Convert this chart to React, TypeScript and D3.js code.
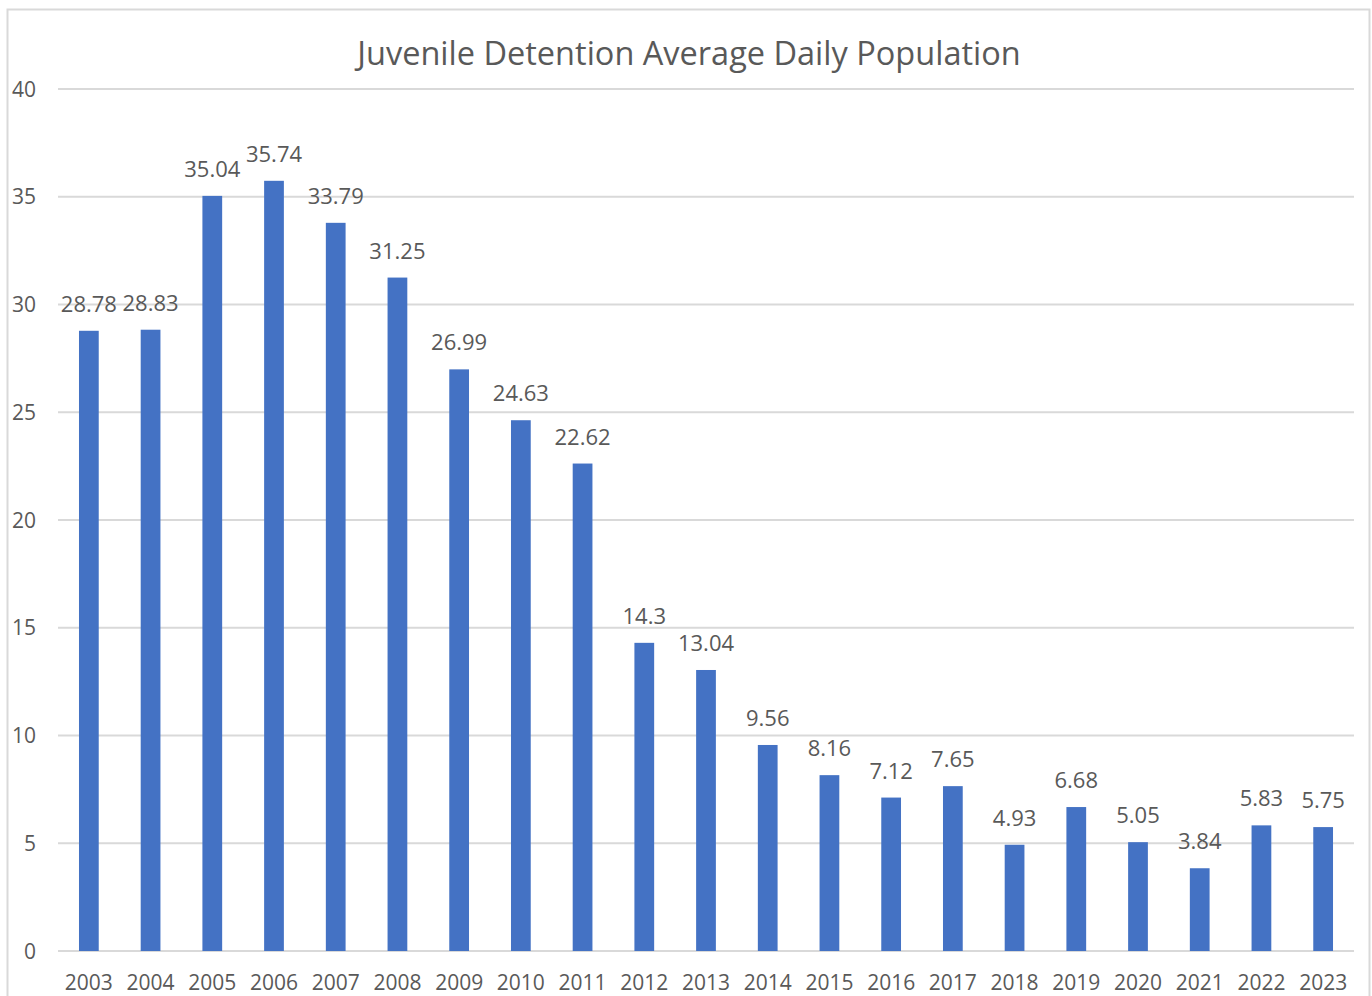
import { useMemo } from 'react'
import * as d3 from 'd3'

const YEARS = ['2003', '2004', '2005', '2006', '2007', '2008', '2009', '2010', '2011', '2012', '2013',
  '2014', '2015', '2016', '2017', '2018', '2019', '2020', '2021', '2022', '2023']
const VALUES = [28.78, 28.83, 35.04, 35.74, 33.79, 31.25, 26.99, 24.63, 22.62, 14.3, 13.04,
  9.56, 8.16, 7.12, 7.65, 4.93, 6.68, 5.05, 3.84, 5.83, 5.75]
const Y_TICKS = [0, 5, 10, 15, 20, 25, 30, 35, 40]
const TITLE = 'Juvenile Detention Average Daily Population'

const W = 1372
const H = 996
const PLOT = { left: 58, right: 1354, top: 89, bottom: 951 }
const BAR = '#4472C4'
const TEXT = '#595959'
const GRID = '#d9d9d9'
const FONT = '"Open Sans", sans-serif'

export default function App() {
  const x = useMemo(
    () => d3.scaleBand().domain(YEARS).range([PLOT.left, PLOT.right]).paddingInner(0.68).paddingOuter(0.34),
    []
  )
  const y = useMemo(() => d3.scaleLinear().domain([0, 40]).range([PLOT.bottom, PLOT.top]), [])

  const data = YEARS.map((yr, i) => ({ yr, v: VALUES[i] }))

  return (
    <svg width={W} height={H} style={{ position: 'absolute', left: 0, top: 0, background: '#fff' }}
      fontFamily={FONT}>
      <rect x={7.5} y={9.5} width={1362} height={1000} fill="#fff" stroke={GRID} strokeWidth={2} />

      <text x={689} y={65} textAnchor="middle" fontSize={32.5} fill={TEXT}>{TITLE}</text>

      {/* gridlines + y labels */}
      {Y_TICKS.map(t => (
        <g key={t}>
          <line x1={PLOT.left} x2={PLOT.right} y1={y(t)} y2={y(t)} stroke={GRID} strokeWidth={2} />
          <text x={36} y={y(t)} dy="0.36em" textAnchor="end" fontSize={21} fill={TEXT}>{t}</text>
        </g>
      ))}

      {/* bars */}
      {data.map(d => (
        <rect key={d.yr} x={x(d.yr)!} y={y(d.v)} width={x.bandwidth()} height={y(0) - y(d.v)} fill={BAR} />
      ))}

      {/* value labels */}
      {data.map(d => (
        <text key={'v' + d.yr} x={x(d.yr)! + x.bandwidth() / 2} y={y(d.v) - 19} textAnchor="middle"
          fontSize={22} fill={TEXT}>{d.v}</text>
      ))}

      {/* x labels */}
      {data.map(d => (
        <text key={'x' + d.yr} x={x(d.yr)! + x.bandwidth() / 2} y={990} textAnchor="middle"
          fontSize={21} fill={TEXT}>{d.yr}</text>
      ))}
    </svg>
  )
}
